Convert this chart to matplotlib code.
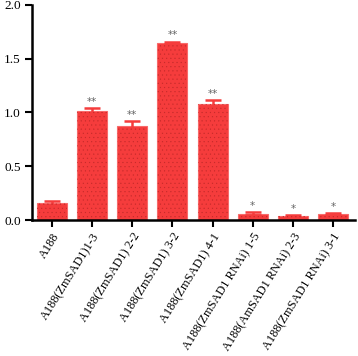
import matplotlib
matplotlib.use('Agg')
import matplotlib.pyplot as plt
import numpy as np

labels = ['A188', 'A188(ZmSAD1)1-3', 'A188(ZmSAD1) 2-2', 'A188(ZmSAD1) 3-2',
          'A188(ZmSAD1) 4-1', 'A188(ZmSAD1 RNAi) 1-5', 'A188(AmSAD1 RNAi) 2-3',
          'A188(ZmSAD1 RNAi) 3-1']
values = [0.16, 1.01, 0.87, 1.65, 1.08, 0.06, 0.04, 0.055]
errors = [0.02, 0.03, 0.05, 0.01, 0.035, 0.015, 0.01, 0.01]
marks = ['', '**', '**', '**', '**', '*', '*', '*']

RED = '#f53c3c'
plt.rcParams['font.family'] = ['Liberation Serif', 'DejaVu Serif']
plt.rcParams['hatch.linewidth'] = 0.3

fig = plt.figure(figsize=(3.58, 3.56), dpi=100, facecolor='white')
ax = fig.add_axes([0.089, 0.382, 0.903, 0.604])
x = np.arange(len(labels))
ax.bar(x, values, width=0.75, color=RED, edgecolor='#f86a6a', linewidth=0.8,
       yerr=errors, ecolor=RED, capsize=6,
       error_kw=dict(elinewidth=1.8, capthick=1.8), zorder=2)
# fine dotted texture on top of the bars
ax.bar(x, values, width=0.75, facecolor='none', edgecolor='#c42a2a',
       linewidth=0, hatch='....', zorder=3)
for xi, v, e, m in zip(x, values, errors, marks):
    if m:
        ax.text(xi, v + e + 0.01, m, ha='center', va='bottom', fontsize=7.5,
                color='#666666', family='DejaVu Sans', zorder=4)

ax.set_xlim(-0.5, 7.55)
ax.set_ylim(0, 2.0)
ax.set_yticks([0, 0.5, 1.0, 1.5, 2.0])
ax.set_yticklabels(['0.0', '0.5', '1.0', '1.5', '2.0'], fontsize=9.5)
ax.set_xticks(x)
ax.set_xticklabels(labels, rotation=58, ha='right', rotation_mode='anchor', fontsize=8.8)
for s in ['top', 'right']:
    ax.spines[s].set_visible(False)
for s in ['left', 'bottom']:
    ax.spines[s].set_linewidth(1.8)
ax.tick_params(axis='both', width=1.5, length=5, direction='out', pad=3)
fig.savefig('out.png', dpi=100, facecolor='white')
